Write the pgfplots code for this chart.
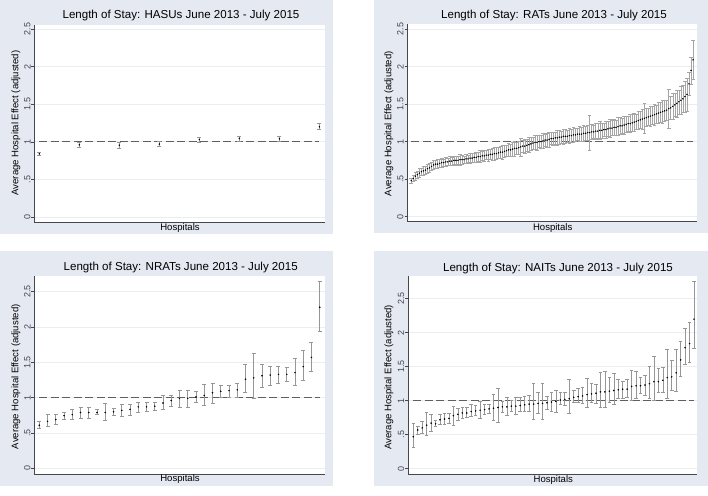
\documentclass[border=0pt]{standalone}
\usepackage{pgfplots}
\pgfplotsset{compat=1.18}
\usepackage{pgfplotstable}
\usepackage{fontspec}
\setmainfont{Liberation Sans}

\definecolor{bgc}{RGB}{229,233,242}
\definecolor{gridc}{RGB}{234,238,243}
\definecolor{axc}{RGB}{70,70,80}
\definecolor{barc}{RGB}{150,150,150}
\definecolor{ratc}{RGB}{165,165,165}
\definecolor{refc}{RGB}{95,95,95}

\pgfplotstableread{
x y lo hi
1 0.84 0.82 0.86
2 0.96 0.93 0.99
3 0.955 0.92 0.99
4 0.97 0.94 1.01
5 1.03 1.00 1.06
6 1.045 1.01 1.07
7 1.04 1.01 1.07
8 1.20 1.16 1.24
}\hasu

\pgfplotstableread{
x y e
1 0.48 0.03
2 0.51 0.04
3 0.54 0.05
4 0.56 0.05
5 0.58 0.06
6 0.60 0.05
7 0.61 0.06
8 0.62 0.05
9 0.64 0.06
10 0.65 0.06
11 0.67 0.05
12 0.69 0.06
13 0.70 0.05
14 0.70 0.06
15 0.71 0.05
16 0.72 0.06
17 0.72 0.05
18 0.73 0.06
19 0.73 0.05
20 0.74 0.06
21 0.74 0.05
22 0.75 0.05
23 0.75 0.06
24 0.75 0.05
25 0.76 0.07
26 0.76 0.06
27 0.76 0.05
28 0.77 0.06
29 0.77 0.05
30 0.78 0.07
31 0.78 0.06
32 0.79 0.06
33 0.79 0.07
34 0.80 0.06
35 0.80 0.08
36 0.81 0.06
37 0.81 0.07
38 0.82 0.06
39 0.82 0.08
40 0.83 0.07
41 0.83 0.08
42 0.84 0.09
43 0.84 0.08
44 0.85 0.07
45 0.86 0.08
46 0.86 0.09
47 0.87 0.08
48 0.88 0.07
49 0.89 0.09
50 0.89 0.08
51 0.90 0.09
52 0.91 0.10
53 0.91 0.08
54 0.92 0.09
55 0.93 0.12
56 0.94 0.08
57 0.94 0.09
58 0.95 0.08
59 0.96 0.10
60 0.97 0.09
61 0.98 0.08
62 0.99 0.09
63 0.99 0.10
64 1.00 0.08
65 1.00 0.09
66 1.01 0.10
67 1.02 0.08
68 1.02 0.09
69 1.03 0.10
70 1.04 0.08
71 1.04 0.09
72 1.05 0.08
73 1.05 0.10
74 1.06 0.09
75 1.06 0.08
76 1.07 0.10
77 1.07 0.09
78 1.07 0.08
79 1.08 0.10
80 1.08 0.09
81 1.09 0.10
82 1.09 0.09
83 1.10 0.08
84 1.10 0.10
85 1.10 0.09
86 1.11 0.11
87 1.11 0.09
88 1.12 0.10
89 1.12 0.23
90 1.13 0.10
91 1.13 0.09
92 1.14 0.11
93 1.14 0.10
94 1.15 0.12
95 1.15 0.10
96 1.16 0.09
97 1.16 0.11
98 1.17 0.10
99 1.18 0.12
100 1.18 0.10
101 1.19 0.11
102 1.19 0.10
103 1.20 0.12
104 1.21 0.11
105 1.21 0.10
106 1.22 0.12
107 1.23 0.11
108 1.24 0.10
109 1.24 0.12
110 1.25 0.11
111 1.26 0.12
112 1.27 0.10
113 1.28 0.12
114 1.29 0.11
115 1.30 0.13
116 1.31 0.20
117 1.32 0.12
118 1.33 0.11
119 1.34 0.13
120 1.35 0.12
121 1.36 0.14
122 1.37 0.12
123 1.38 0.14
124 1.39 0.13
125 1.40 0.15
126 1.41 0.14
127 1.42 0.13
128 1.44 0.26
129 1.45 0.15
130 1.47 0.17
131 1.49 0.15
132 1.51 0.18
133 1.53 0.16
134 1.55 0.19
135 1.57 0.18
136 1.60 0.21
137 1.63 0.22
138 1.77 0.15
139 1.95 0.18
140 2.09 0.26
}\rat

\pgfplotstableread{
x y lo hi
1 0.61 0.56 0.67
2 0.665 0.59 0.76
3 0.69 0.63 0.76
4 0.745 0.69 0.79
5 0.76 0.69 0.83
6 0.79 0.71 0.87
7 0.79 0.71 0.87
8 0.79 0.76 0.83
9 0.79 0.68 0.92
10 0.80 0.75 0.85
11 0.82 0.73 0.90
12 0.835 0.75 0.91
13 0.87 0.80 0.93
14 0.87 0.81 0.93
15 0.88 0.82 0.93
16 0.925 0.83 1.03
17 0.96 0.88 1.04
18 0.99 0.87 1.10
19 0.99 0.87 1.11
20 1.01 0.93 1.09
21 1.03 0.89 1.19
22 1.07 0.92 1.21
23 1.09 1.00 1.18
24 1.10 1.00 1.18
25 1.11 1.01 1.21
26 1.26 1.08 1.47
27 1.28 0.99 1.63
28 1.31 1.15 1.47
29 1.32 1.18 1.45
30 1.33 1.21 1.44
31 1.33 1.23 1.43
32 1.355 1.17 1.56
33 1.44 1.24 1.67
34 1.57 1.37 1.79
35 2.28 1.94 2.65
}\nrat

\pgfplotstableread{
x y lo hi
1 0.47 0.31 0.67
2 0.57 0.50 0.63
3 0.60 0.52 0.70
4 0.64 0.49 0.83
5 0.67 0.55 0.80
6 0.66 0.62 0.71
7 0.72 0.65 0.80
8 0.73 0.66 0.81
9 0.74 0.67 0.82
10 0.78 0.64 0.92
11 0.80 0.71 0.89
12 0.82 0.74 0.91
13 0.82 0.75 0.90
14 0.84 0.77 0.94
15 0.85 0.78 0.93
16 0.86 0.74 0.99
17 0.87 0.80 0.94
18 0.88 0.81 0.95
19 0.89 0.71 1.10
20 0.90 0.68 1.18
21 0.91 0.83 0.99
22 0.91 0.78 1.05
23 0.92 0.84 1.00
24 0.92 0.80 1.05
25 0.93 0.85 1.05
26 0.94 0.85 1.07
27 0.95 0.85 1.08
28 0.95 0.72 1.26
29 0.96 0.82 1.12
30 0.96 0.73 1.26
31 0.97 0.88 1.07
32 0.98 0.85 1.13
33 0.99 0.83 1.16
34 1.01 0.94 1.12
35 1.02 0.93 1.12
36 1.03 0.82 1.31
37 1.05 0.98 1.15
38 1.06 0.98 1.18
39 1.07 0.96 1.19
40 1.09 0.90 1.33
41 1.10 0.97 1.25
42 1.11 0.96 1.24
43 1.13 0.90 1.42
44 1.13 0.91 1.43
45 1.14 0.98 1.35
46 1.15 0.95 1.41
47 1.16 1.04 1.31
48 1.17 1.04 1.29
49 1.17 1.05 1.31
50 1.21 1.00 1.44
51 1.22 1.03 1.43
52 1.22 1.11 1.34
53 1.23 1.08 1.37
54 1.25 1.04 1.50
55 1.28 1.00 1.65
56 1.28 1.12 1.47
57 1.30 1.13 1.49
58 1.34 1.03 1.75
59 1.35 1.15 1.59
60 1.41 1.14 1.75
61 1.60 1.36 1.88
62 1.78 1.54 2.06
63 1.84 1.57 2.15
64 2.20 1.77 2.75
}\nait

\pgfplotsset{
  stataax/.style={
    scale only axis,
    axis x line*=bottom, axis y line*=left,
    axis line style={axc, line width=0.7bp},
    xtick=\empty,
    ytick={0,0.5,1,1.5,2,2.5},
    yticklabels={0,.5,1,1.5,2,2.5},
    yticklabel style={rotate=90, anchor=south, font=\fontsize{9}{10}\selectfont, text=axc, inner sep=0.8bp},
    tick align=outside, major tick length=2.8bp,
    tick style={axc, line width=0.6bp},
    ymajorgrids, grid style={gridc, line width=0.8bp},
    axis background/.style={fill=white},
  },
  ebar/.style={only marks, mark=*, mark size=0.55bp, black,
    error bars/.cd, y dir=both, y explicit,
    error bar style={barc, line width=0.6bp},
    error mark options={barc, rotate=90, mark size=#1, line width=0.6bp}},
  rbar/.style={only marks, mark=*, mark size=0.5bp, black,
    error bars/.cd, y dir=both, y explicit,
    error bar style={ratc, line width=0.55bp},
    error mark options={ratc, rotate=90, mark size=1.8bp, line width=0.55bp}},
  refline/.style={refc, line width=1.3bp, dash pattern=on 8bp off 3.5bp, forget plot},
}

\newcommand{\ttl}{\fontsize{11.6}{13}\selectfont}
\newcommand{\lbl}{\fontsize{9.6}{11}\selectfont}

\begin{document}
\begin{tikzpicture}
\fill[white] (0bp,0bp) rectangle (708bp,496bp);
\fill[bgc] (0bp,262bp) rectangle (333bp,496bp);
\fill[bgc] (374bp,263bp) rectangle (708bp,496bp);
\fill[bgc] (0bp,10bp) rectangle (333bp,245bp);
\fill[bgc] (374bp,10bp) rectangle (708bp,245bp);

% Panel 1: HASUs
\begin{axis}[stataax, at={(34.3bp,273.7bp)}, anchor=south west,
  width=290.7bp, height=197.3bp,
  xmin=0.875, xmax=8.14, ymin=-0.07, ymax=2.553]
\addplot[refline] coordinates {(1,1) (8,1)};
\addplot[ebar=2bp] table[x=x, y=y, y error plus expr=\thisrow{hi}-\thisrow{y}, y error minus expr=\thisrow{y}-\thisrow{lo}] {\hasu};
\end{axis}
\node[font=\ttl] at (181bp,480.3bp) {Length of Stay: HASUs June 2013 - July 2015};
\node[font=\lbl] at (180bp,267.7bp) {Hospitals};
\node[font=\lbl, rotate=90] at (16bp,373bp) {Average Hospital Effect (adjusted)};

% Panel 2: RATs
\begin{axis}[stataax, at={(407.3bp,274.3bp)}, anchor=south west,
  width=290bp, height=197.7bp,
  xmin=-0.97, xmax=142.1, ymin=-0.067, ymax=2.567]
\addplot[refline] coordinates {(1,1) (140,1)};
\addplot[rbar] table[x=x, y=y, y error=e] {\rat};
\end{axis}
\node[font=\ttl] at (554bp,480.3bp) {Length of Stay: RATs June 2013 - July 2015};
\node[font=\lbl] at (552.7bp,267.7bp) {Hospitals};
\node[font=\lbl, rotate=90] at (389bp,372.3bp) {Average Hospital Effect (adjusted)};

% Panel 3: NRATs
\begin{axis}[stataax, at={(34.3bp,21.3bp)}, anchor=south west,
  width=290.7bp, height=198.4bp,
  xmin=0.394, xmax=35.64, ymin=-0.09, ymax=2.718]
\addplot[refline] coordinates {(1,1) (35,1)};
\addplot[ebar=2bp] table[x=x, y=y, y error plus expr=\thisrow{hi}-\thisrow{y}, y error minus expr=\thisrow{y}-\thisrow{lo}] {\nrat};
\end{axis}
\node[font=\ttl] at (180.7bp,228bp) {Length of Stay: NRATs June 2013 - July 2015};
\node[font=\lbl] at (180bp,17bp) {Hospitals};
\node[font=\lbl, rotate=90] at (16bp,119.2bp) {Average Hospital Effect (adjusted)};

% Panel 4: NAITs
\begin{axis}[stataax, at={(408bp,22bp)}, anchor=south west,
  width=289.3bp, height=197.7bp,
  xmin=-0.19, xmax=64.74, ymin=-0.078, ymax=2.83]
\addplot[refline] coordinates {(1,1) (64,1)};
\addplot[ebar=1.8bp] table[x=x, y=y, y error plus expr=\thisrow{hi}-\thisrow{y}, y error minus expr=\thisrow{y}-\thisrow{lo}] {\nait};
\end{axis}
\node[font=\ttl] at (558bp,227.3bp) {Length of Stay: NAITs June 2013 - July 2015};
\node[font=\lbl] at (553.3bp,16.3bp) {Hospitals};
\node[font=\lbl, rotate=90] at (389bp,118.8bp) {Average Hospital Effect (adjusted)};
\end{tikzpicture}
\end{document}
